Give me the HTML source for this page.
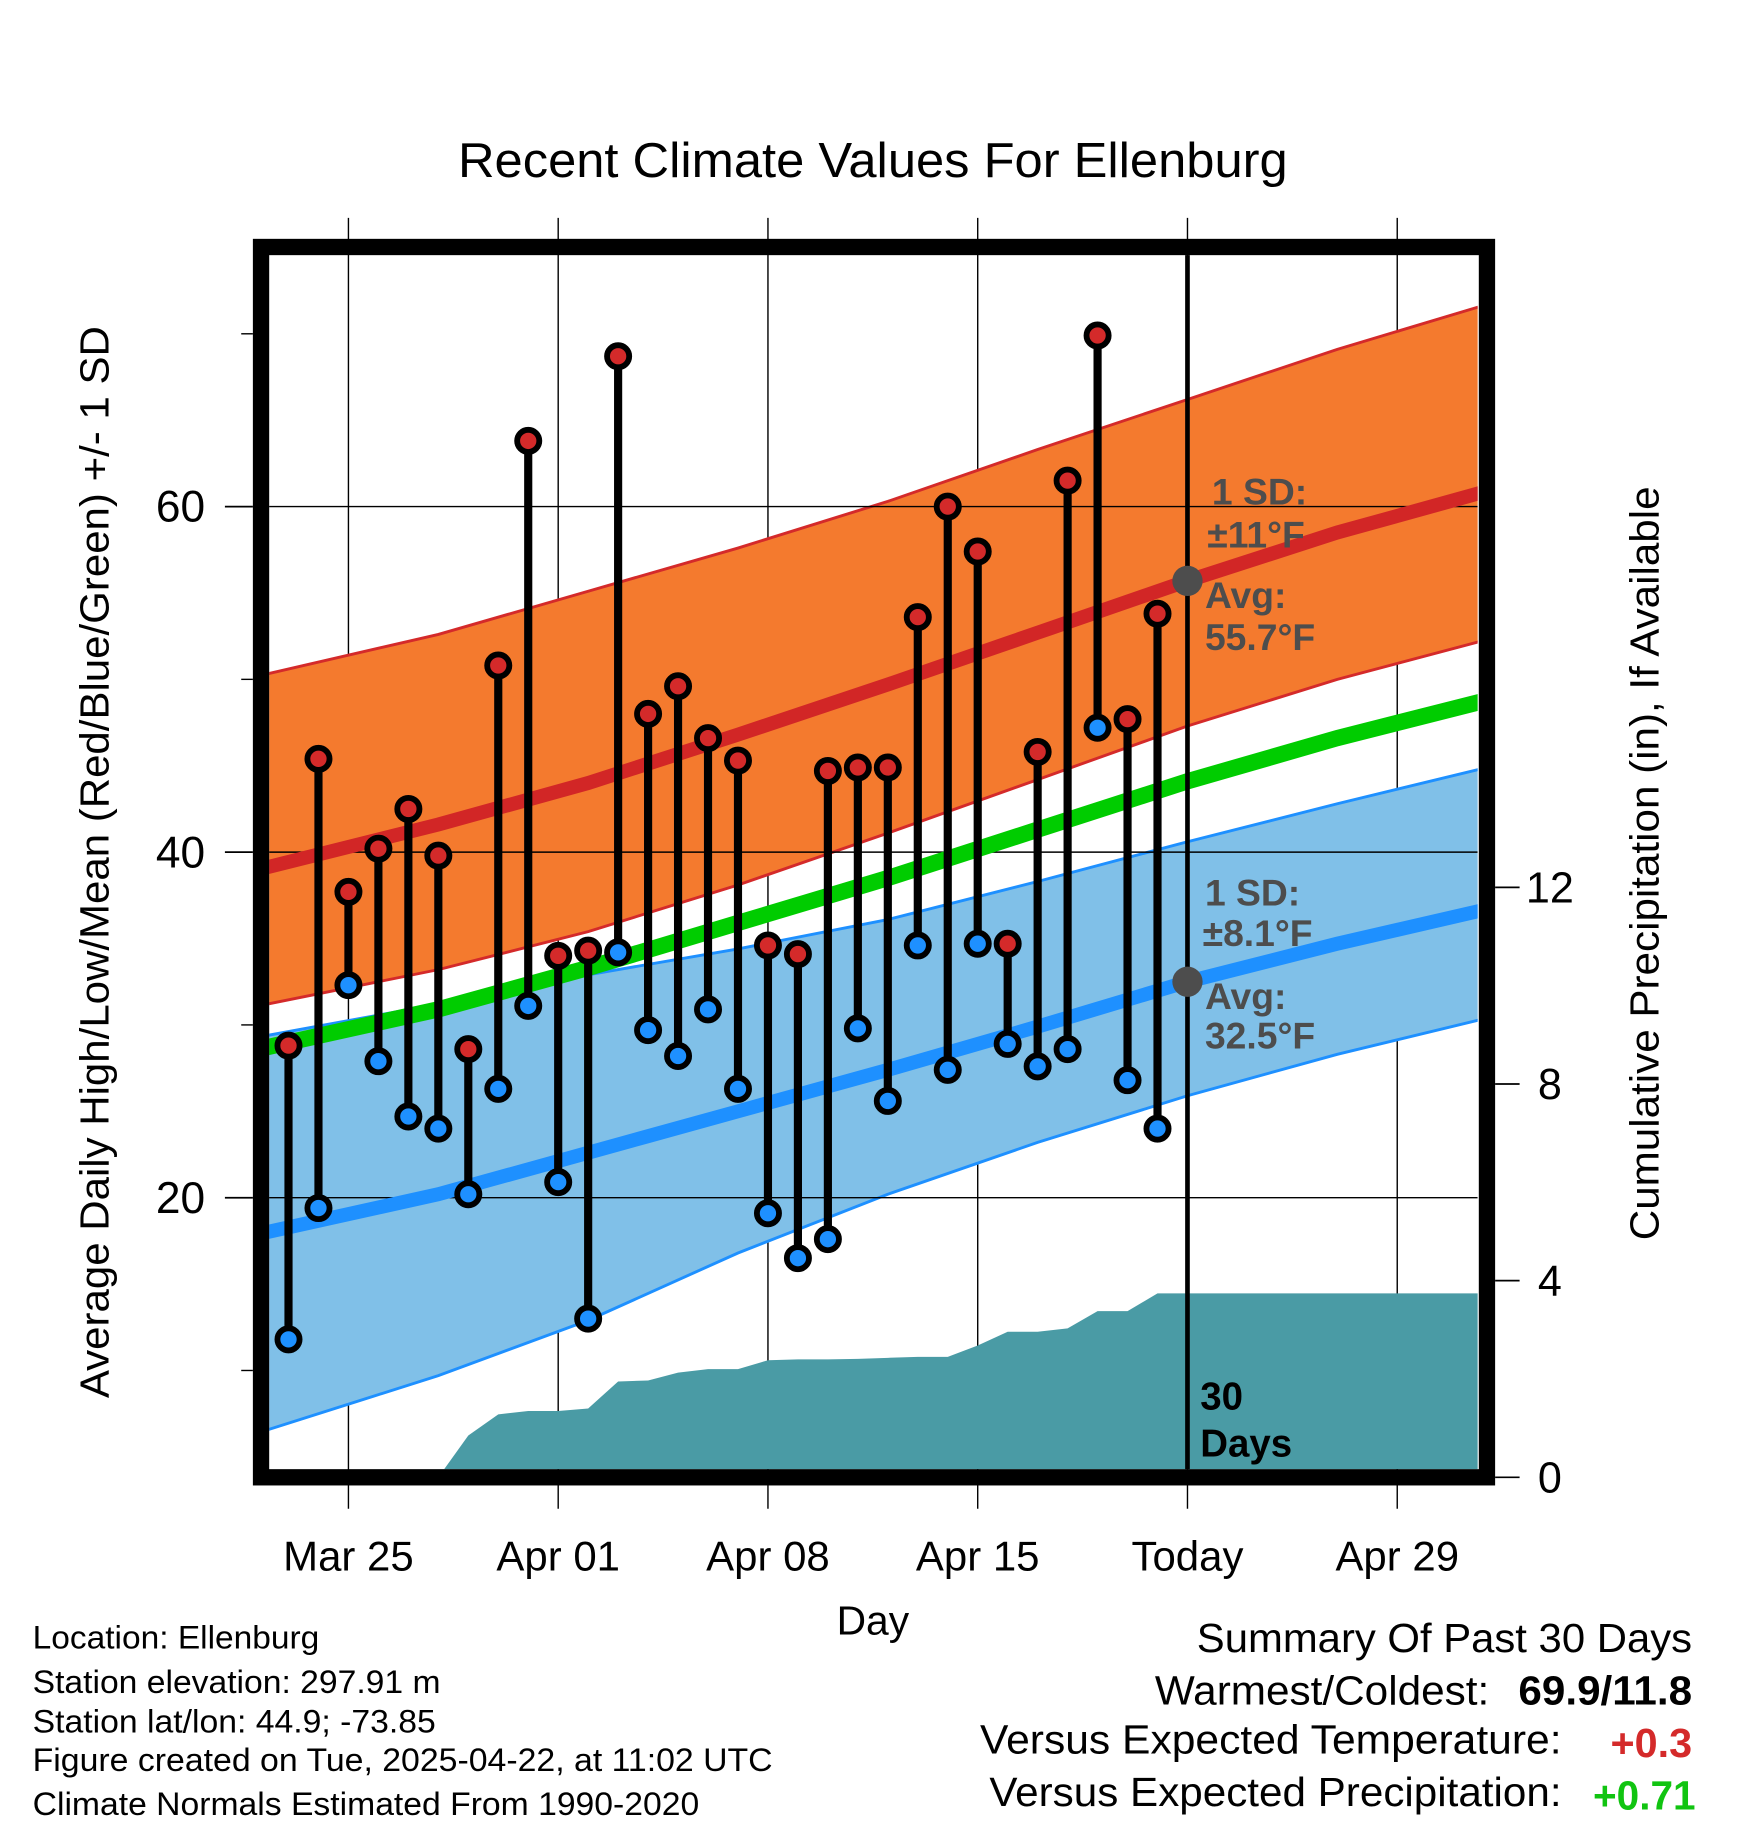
<!DOCTYPE html>
<html><head><meta charset="utf-8"><style>
html,body{margin:0;padding:0;background:#fff;}
svg{display:block;font-family:"Liberation Sans",Arial,sans-serif;}
</style></head><body>
<svg id="chart" width="1748" height="1828" viewBox="0 0 1500 1569" preserveAspectRatio="none" xmlns="http://www.w3.org/2000/svg">
<defs><clipPath id="plotclip"><rect x="231" y="219" width="1037" height="1042"/></clipPath></defs>
<rect x="0" y="0" width="1500" height="1569" fill="#fff"/>
<text x="749" y="152" font-size="42" text-anchor="middle" textLength="712" lengthAdjust="spacingAndGlyphs">Recent Climate Values For Ellenburg</text>
<g id="grid"></g>
<g id="plot" clip-path="url(#plotclip)"></g>
<rect x="224" y="212" width="1052" height="1056" fill="none" stroke="#000" stroke-width="14"/>
<g id="axes"></g>
<text x="749" y="1403" font-size="35" text-anchor="middle">Day</text>
<text transform="translate(93,740) rotate(-90)" font-size="35" text-anchor="middle" textLength="920" lengthAdjust="spacingAndGlyphs">Average Daily High/Low/Mean (Red/Blue/Green) +/- 1 SD</text>
<text transform="translate(1423,741) rotate(-90)" font-size="35" text-anchor="middle" textLength="647" lengthAdjust="spacingAndGlyphs">Cumulative Precipitation (in), If Available</text>
<g font-size="28">
<text x="28" y="1415" textLength="246" lengthAdjust="spacingAndGlyphs">Location: Ellenburg</text>
<text x="28" y="1453" textLength="350" lengthAdjust="spacingAndGlyphs">Station elevation: 297.91 m</text>
<text x="28" y="1487" textLength="346" lengthAdjust="spacingAndGlyphs">Station lat/lon: 44.9; -73.85</text>
<text x="28" y="1520" textLength="635" lengthAdjust="spacingAndGlyphs">Figure created on Tue, 2025-04-22, at 11:02 UTC</text>
<text x="28" y="1558" textLength="572" lengthAdjust="spacingAndGlyphs">Climate Normals Estimated From 1990-2020</text>
</g>
<g font-size="35">
<text x="1027" y="1418" textLength="425" lengthAdjust="spacingAndGlyphs">Summary Of Past 30 Days</text>
<text x="991" y="1463" textLength="287" lengthAdjust="spacingAndGlyphs">Warmest/Coldest:</text>
<text x="1303" y="1463" font-weight="bold" textLength="149" lengthAdjust="spacingAndGlyphs">69.9/11.8</text>
<text x="841" y="1505" textLength="499" lengthAdjust="spacingAndGlyphs">Versus Expected Temperature:</text>
<text x="1382" y="1508" font-weight="bold" fill="#d42a2a" textLength="70" lengthAdjust="spacingAndGlyphs">+0.3</text>
<text x="849" y="1550" textLength="491" lengthAdjust="spacingAndGlyphs">Versus Expected Precipitation:</text>
<text x="1367" y="1553" font-weight="bold" fill="#11c411" textLength="88" lengthAdjust="spacingAndGlyphs">+0.71</text>
</g>
</svg>
<script>
// ---- data ----
const obsDays = [-2,-1,0,1,2,3,4,5,6,7,8,9,10,11,12,13,14,15,16,17,18,19,20,21,22,23,24,25,26,27];
const highs = [28.8,45.4,37.7,40.2,42.5,39.8,28.6,50.8,63.8,34.0,34.3,68.7,48.0,49.6,46.6,45.3,34.6,34.1,44.7,44.9,44.9,53.6,60.0,57.4,34.7,45.8,61.5,69.9,47.7,53.8];
const lows = [11.8,19.4,32.3,27.9,24.7,24.0,20.2,26.3,31.1,20.9,13.0,34.2,29.7,28.2,30.9,26.3,19.1,16.5,17.6,29.8,25.6,34.6,27.4,34.7,28.9,27.6,28.6,47.2,26.8,24.0];
const precipDays = [3,4,5,6,7,8,9,10,11,12,13,14,15,16,17,18,19,20,21,22,23,24,25,26,27,38];
const precip = [0,0.85,1.28,1.35,1.35,1.4,1.95,1.97,2.13,2.2,2.2,2.38,2.4,2.4,2.41,2.43,2.45,2.45,2.68,2.96,2.96,3.03,3.38,3.38,3.74,3.74];
const normDays = [-3,3,8,13,18,23,28,33,38];
const hiUpper = [50.2,52.6,55.1,57.6,60.3,63.3,66.2,69.1,71.7];
const hiMean = [39.0,41.6,44.0,46.8,49.7,52.7,55.7,58.5,60.9];
const hiLower = [31.1,33.2,35.4,38.1,41.1,44.2,47.3,50.0,52.3];
const loUpper = [29.3,31.2,32.9,34.4,36.1,38.3,40.6,42.8,44.9];
const loMean = [17.9,20.2,22.6,25.0,27.4,29.9,32.5,34.7,36.7];
const loLower = [6.4,9.7,12.9,16.8,20.2,23.2,25.9,28.3,30.4];
const avgMean = [28.6,30.9,33.3,35.9,38.5,41.3,44.1,46.6,48.8];
const xTickDays = [0,7,14,21,28,35];
const xTickLabels = ["Mar 25","Apr 01","Apr 08","Apr 15","Today","Apr 29"];
const yTicks = [20,40,60];
const yMinorTicks = [10,30,50,70];
const y2Ticks = [0,4,8,12];
const todayDay = 28;
const todayHi = 55.7;
const todayLo = 32.5;

// ---- scales ----
const X = d => 299 + d * (180/7);
const Y = t => 1028 - (t - 20) * 14.83;
const P = p => 1268 - p * 42.2;
const NS = "http://www.w3.org/2000/svg";
function mk(tag, attrs, parent){const e=document.createElementNS(NS,tag);for(const k in attrs)e.setAttribute(k,attrs[k]);parent.appendChild(e);return e;}
const grid=document.getElementById('grid'), plot=document.getElementById('plot'), axes=document.getElementById('axes');

xTickDays.forEach((d,i)=>{
  const l=mk('line',{x1:X(d),x2:X(d),y1:187,y2:1295,stroke:'#000','stroke-width':1.2},grid);
  
  
  const t=mk('text',{x:X(d),y:1348,'font-size':36,'text-anchor':'middle'},axes);
  t.textContent=xTickLabels[i];
  
  
});

function pts(arr){return normDays.map((d,i)=>X(d)+','+Y(arr[i])).join(' ');}
function band(up,lo,fill,stroke,name){
  const poly=mk('polygon',{points:pts(up)+' '+normDays.slice().reverse().map((d,j)=>{const i=normDays.length-1-j;return X(d)+','+Y(lo[i]);}).join(' '),fill:fill},plot);
  
  
  [up,lo].forEach(a=>{const pl=mk('polyline',{points:pts(a),fill:'none',stroke:stroke,'stroke-width':2.5},plot);
    
    });
}
band(hiUpper,hiLower,'#f47a2e','#d42a2a','high-sd-band');
band(loUpper,loLower,'#80c0e8','#1e90ff','low-sd-band');

yTicks.forEach(t=>{
  const l=mk('line',{x1:193,x2:1268,y1:Y(t),y2:Y(t),stroke:'#000','stroke-width':1.2},plot);
  
  
});

const hm=mk('polyline',{points:pts(hiMean),fill:'none',stroke:'#d22626','stroke-width':12},plot);


const lm=mk('polyline',{points:pts(loMean),fill:'none',stroke:'#1e90ff','stroke-width':12},plot);


const am=mk('polyline',{points:pts(avgMean),fill:'none',stroke:'#00cc00','stroke-width':14},plot);



const pp=precipDays.map((d,i)=>X(d)+','+P(precip[i])).join(' ');
const area=mk('polygon',{points:X(precipDays[0])+','+P(0)+' '+pp+' '+X(38)+','+P(0),fill:'#4a9ba5'},plot);



const tl=mk('line',{x1:X(todayDay),x2:X(todayDay),y1:212,y2:1262,stroke:'#000','stroke-width':4},plot);



obsDays.forEach((d,i)=>{
  const s=mk('line',{x1:X(d),x2:X(d),y1:Y(highs[i]),y2:Y(lows[i]),stroke:'#000','stroke-width':7},plot);
  
  
});
obsDays.forEach((d,i)=>{
  const h=mk('circle',{cx:X(d),cy:Y(highs[i]),r:9.5,fill:'#d42a2a',stroke:'#000','stroke-width':5},plot);
  
  
  const l=mk('circle',{cx:X(d),cy:Y(lows[i]),r:9.5,fill:'#1e90ff',stroke:'#000','stroke-width':5},plot);
  
  
});

[todayHi,todayLo].forEach(v=>{
  const c=mk('circle',{cx:X(todayDay),cy:Y(v),r:13,fill:'#4d4d4d'},plot);
  
  
});
function lab(txt,x,y,fill,size){const t=mk('text',{x:x,y:y,'font-size':size,'font-weight':'bold',fill:fill},plot);t.textContent=txt;return t;}
let a;
a=lab('1 SD:',1040,433,'#4d4d4d',32);
a=lab('±11°F',1036,470,'#4d4d4d',32);
a=lab('Avg:',1034,522,'#4d4d4d',32);
a=lab('55.7°F',1034,558,'#4d4d4d',32);
a=lab('1 SD:',1034,777,'#4d4d4d',32);
a=lab('±8.1°F',1032,812,'#4d4d4d',32);
a=lab('Avg:',1034,866,'#4d4d4d',32);
a=lab('32.5°F',1034,900,'#4d4d4d',32);
a=lab('30',1030,1210,'#000',33);
a=lab('Days',1030,1250,'#000',33);

yTicks.forEach(t=>{
  const l=mk('line',{x1:193,x2:217,y1:Y(t),y2:Y(t),stroke:'#000','stroke-width':1.5},axes);
  
  
  const tx=mk('text',{x:176,y:Y(t)+13,'font-size':38,'text-anchor':'end'},axes);
  tx.textContent=t;
  
  
});
yMinorTicks.forEach(t=>{
  const l=mk('line',{x1:207,x2:217,y1:Y(t),y2:Y(t),stroke:'#000','stroke-width':1.2},axes);
  
  
});
y2Ticks.forEach(p=>{
  const l=mk('line',{x1:1283,x2:1304,y1:P(p),y2:P(p),stroke:'#000','stroke-width':1.5},axes);
  
  
  const tx=mk('text',{x:1330,y:P(p)+13,'font-size':37,'text-anchor':'middle'},axes);
  tx.textContent=p;
  
  
});
</script>
</body></html>
